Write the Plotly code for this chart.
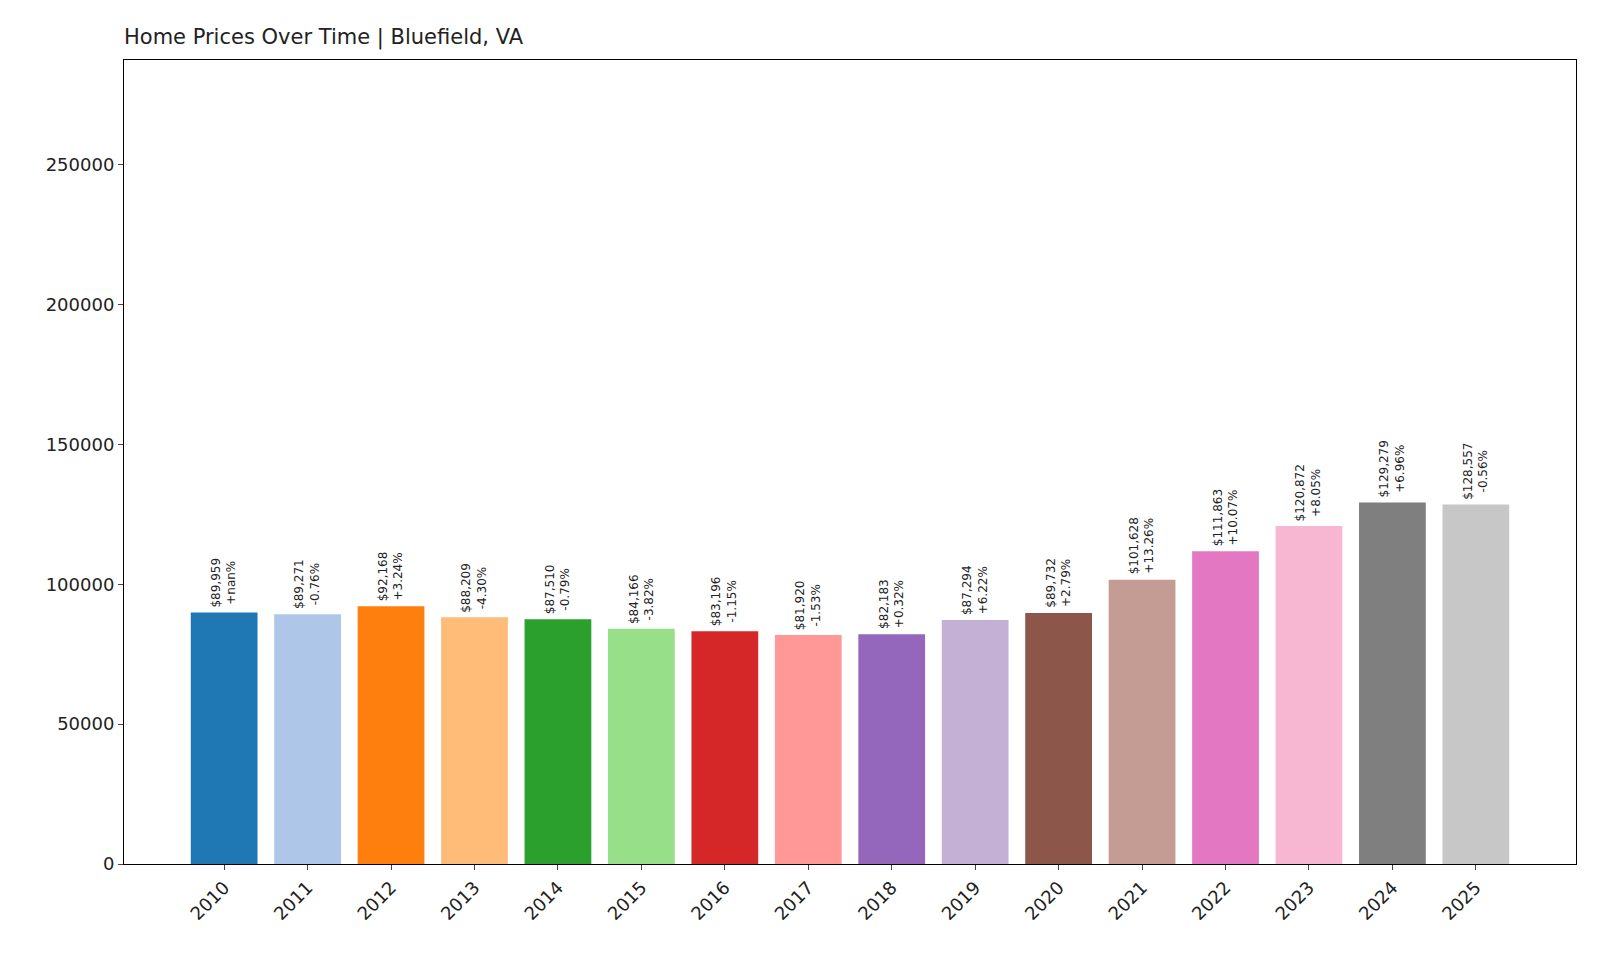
import plotly.graph_objects as go

years = list(range(2010, 2026))
prices = [89959, 89271, 92168, 88209, 87510, 84166, 83196, 81920, 82183, 87294,
          89732, 101628, 111863, 120872, 129279, 128557]
changes = ["+nan%", "-0.76%", "+3.24%", "-4.30%", "-0.79%", "-3.82%", "-1.15%", "-1.53%",
           "+0.32%", "+6.22%", "+2.79%", "+13.26%", "+10.07%", "+8.05%", "+6.96%", "-0.56%"]
colors = ["#1f77b4", "#aec7e8", "#ff7f0e", "#ffbb78", "#2ca02c", "#98df8a", "#d62728", "#ff9896",
          "#9467bd", "#c5b0d5", "#8c564b", "#c49c94", "#e377c2", "#f7b6d2", "#7f7f7f", "#c7c7c7"]

fig = go.Figure(go.Bar(x=years, y=prices, marker=dict(color=colors, line_width=0), width=0.8))

for yr, p, c in zip(years, prices, changes):
    fig.add_annotation(x=yr, y=p, text=f"${p:,}<br>{c}", textangle=-90, showarrow=False,
                       yanchor="bottom", yshift=3, font=dict(size=12, color="#222"))

fig.update_layout(
    width=1600, height=960, plot_bgcolor="white", paper_bgcolor="white",
    margin=dict(l=116, r=32, t=52, b=104),
    font=dict(family="DejaVu Sans", size=18, color="#222"),
    title=dict(text="Home Prices Over Time | Bluefield, VA", x=116/1600, xanchor="left",
               y=1 - 29/960, yanchor="middle", font=dict(size=21)),
    showlegend=False,
)
fig.update_xaxes(range=[2008.8, 2026.2], tickvals=years, tickangle=-45, showline=True,
                 linecolor="black", mirror=True, ticks="outside", showgrid=False)
fig.update_yaxes(range=[0, 287500], tickvals=[0, 50000, 100000, 150000, 200000, 250000],
                 tickformat="d", showline=True, linecolor="black", mirror=True,
                 ticks="outside", showgrid=False, zeroline=False)

fig.write_html("out.html")
